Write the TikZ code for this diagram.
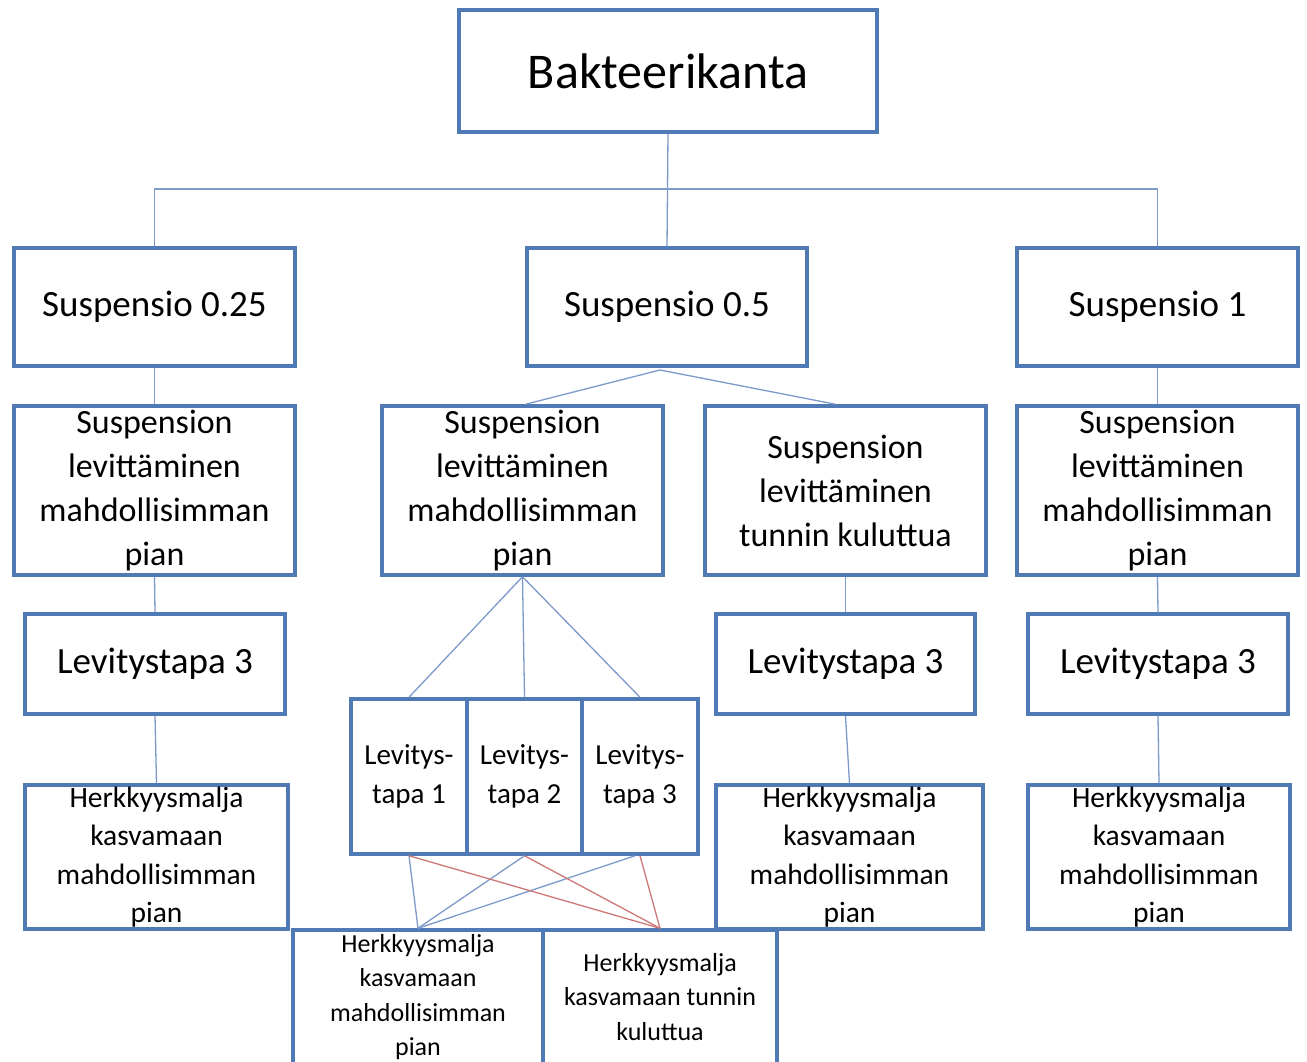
\documentclass[tikz,border=0pt]{standalone}
\usepackage{fontspec}
\setmainfont{Carlito}
\usetikzlibrary{calc}
\definecolor{boxblue}{RGB}{80,122,182}
\definecolor{conblue}{RGB}{126,154,201}
\definecolor{conred}{RGB}{205,120,118}
\tikzset{
  box/.style={draw=boxblue, line width=3.5pt, fill=white, align=center, inner sep=0pt, text=black},
  con/.style={draw=conblue, line width=1.3pt},
  conr/.style={draw=conred, line width=1.3pt},
  fA/.style={font=\fontsize{50}{60}\selectfont},
  fB/.style={font=\fontsize{37}{44}\selectfont},
  fC/.style={font=\fontsize{34}{44}\selectfont},
  fD/.style={font=\fontsize{29.5}{38.5}\selectfont},
  fE/.style={font=\fontsize{29}{39}\selectfont},
  fF/.style={font=\fontsize{26}{34.5}\selectfont},
}
\begin{document}
\begin{tikzpicture}[x=1pt,y=-1pt]
\useasboundingbox (0,0) rectangle (1307,1062);
\clip (0,0) rectangle (1307,1062);
\fill[white] (0,0) rectangle (1307,1062);
% nodes
\node[box,fA,minimum width=418,minimum height=122] (top) at (668,71) {Bakteerikanta};
\node[box,fB,minimum width=281,minimum height=118] (s025) at (154.5,307) {Suspensio 0.25};
\node[box,fB,minimum width=280,minimum height=118] (s05) at (667,307) {Suspensio 0.5};
\node[box,fB,minimum width=281,minimum height=118] (s1) at (1157.5,307) {Suspensio 1};
\node[box,fC,minimum width=281,minimum height=169] (sl1) at (154.5,490.5) {Suspension\\levittäminen\\mahdollisimman\\pian};
\node[box,fC,minimum width=281,minimum height=169] (sl2) at (522.5,490.5) {Suspension\\levittäminen\\mahdollisimman\\pian};
\node[box,fC,minimum width=281,minimum height=169] (sl3) at (845.5,490.5) {Suspension\\levittäminen\\tunnin kuluttua};
\node[box,fC,minimum width=281,minimum height=169] (sl4) at (1157.5,490.5) {Suspension\\levittäminen\\mahdollisimman\\pian};
\node[box,fB,minimum width=260,minimum height=100] (lv1) at (155,664) {Levitystapa 3};
\node[box,fB,minimum width=259,minimum height=100] (lv2) at (845.5,664) {Levitystapa 3};
\node[box,fB,minimum width=260,minimum height=100] (lv3) at (1158,664) {Levitystapa 3};
\node[box,fE,minimum width=116,minimum height=155] (t1) at (409,776.5) {Levitys-\\tapa 1};
\node[box,fE,minimum width=115,minimum height=155] (t2) at (524.5,776.5) {Levitys-\\tapa 2};
\node[box,fE,minimum width=116,minimum height=155] (t3) at (640,776.5) {Levitys-\\tapa 3};
\node[box,fD,minimum width=263,minimum height=144] (h1) at (156.5,857) {Herkkyysmalja\\kasvamaan\\mahdollisimman\\pian};
\node[box,fD,minimum width=267,minimum height=144] (h2) at (849.5,857) {Herkkyysmalja\\kasvamaan\\mahdollisimman\\pian};
\node[box,fD,minimum width=262,minimum height=144] (h3) at (1159,857) {Herkkyysmalja\\kasvamaan\\mahdollisimman\\pian};
\node[box,fF,minimum width=250,minimum height=134] (b1) at (418,997) {Herkkyysmalja\\kasvamaan\\mahdollisimman\\pian};
\node[box,fF,minimum width=234,minimum height=134] (b2) at (660,997) {Herkkyysmalja\\kasvamaan tunnin\\kuluttua};
% connectors
\coordinate (bus) at (668,189);
\draw[con] (s025.north) |- (bus) -| (s1.north);
\draw[con] (top.south) -- (s05.north);
\draw[con] (s025.south) -- (sl1.north);
\draw[con] (s1.south) -- (sl4.north);
\coordinate (s05b) at (660,370);
\draw[con] (s05b) -- ($(sl2.north)+(3,0)$);
\draw[con] (s05b) -- ($(sl3.north)+(-10,0)$);
\draw[con] (sl1.south) -- (lv1.north);
\draw[con] (lv1.south) -- (h1.north);
\draw[con] (sl3.south) -- (lv2.north);
\draw[con] (lv2.south) -- (h2.north);
\draw[con] (sl4.south) -- (lv3.north);
\draw[con] (lv3.south) -- (h3.north);
\draw[con] (sl2.south) -- (t1.north);
\draw[con] (sl2.south) -- (t2.north);
\draw[con] (sl2.south) -- (t3.north);
\draw[con] (t1.south) -- (b1.north);
\draw[con] (t2.south) -- (b1.north);
\draw[con] ($(t3.south)+(-5,0)$) -- (b1.north);
\draw[conr] (t1.south) -- (b2.north);
\draw[conr] (t2.south) -- (b2.north);
\draw[conr] (t3.south) -- (b2.north);
\end{tikzpicture}
\end{document}
